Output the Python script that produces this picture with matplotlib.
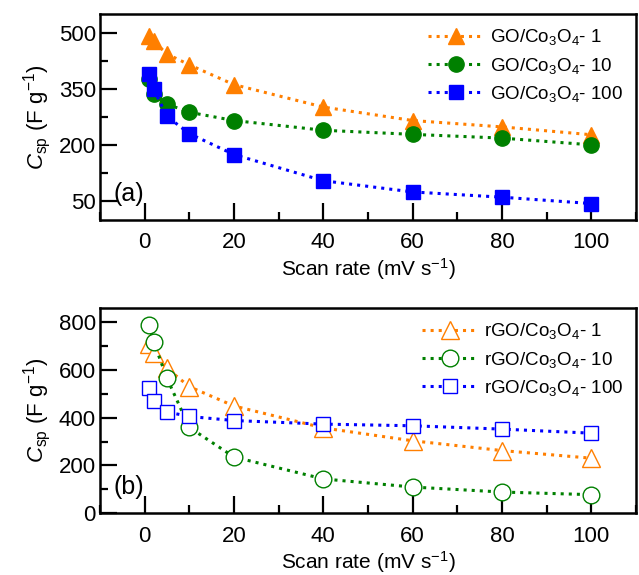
import matplotlib
matplotlib.use("Agg")
import matplotlib.pyplot as plt
from matplotlib.ticker import MultipleLocator

plt.rcParams['font.family'] = ['Liberation Sans', 'DejaVu Sans']
plt.rcParams['mathtext.fontset'] = 'custom'
plt.rcParams['mathtext.rm'] = 'Liberation Sans'
plt.rcParams['mathtext.it'] = 'Liberation Sans:italic'

scan_rate = [1, 2, 5, 10, 20, 40, 60, 80, 100]

# (a) GO/Co3O4
go_1 = [491, 478, 444, 415, 362, 302, 266, 249, 228]
go_10 = [378, 338, 310, 288, 266, 240, 229, 219, 201]
go_100 = [391, 350, 277, 231, 175, 105, 75, 61, 44]

# (b) rGO/Co3O4
rgo_1 = [708, 670, 607, 530, 449, 357, 303, 262, 230]
rgo_10 = [790, 719, 565, 359, 235, 143, 109, 88, 77]
rgo_100 = [524, 470, 424, 405, 388, 373, 366, 352, 335]

orange = '#ff7f00'
green = '#008000'
blue = '#0000ff'

fig = plt.figure(figsize=(6.39, 5.75), dpi=100)
ax1 = fig.add_axes([0.1565, 0.6174, 0.8388, 0.3583])
ax2 = fig.add_axes([0.1565, 0.1078, 0.8388, 0.3565])

ax1.plot(scan_rate, go_1, ':', color=orange, lw=2.2, marker='^', ms=12, label='GO/Co$_3$O$_4$- 1')
ax1.plot(scan_rate, go_10, ':', color=green, lw=2.2, marker='o', ms=11, label='GO/Co$_3$O$_4$- 10')
ax1.plot(scan_rate, go_100, ':', color=blue, lw=2.2, marker='s', ms=10, label='GO/Co$_3$O$_4$- 100')

ax2.plot(scan_rate, rgo_1, ':', color=orange, lw=2.2, marker='^', ms=13, mfc='white', mew=1.0, label='rGO/Co$_3$O$_4$- 1')
ax2.plot(scan_rate, rgo_10, ':', color=green, lw=2.2, marker='o', ms=12, mfc='white', mew=1.0, label='rGO/Co$_3$O$_4$- 10')
ax2.plot(scan_rate, rgo_100, ':', color=blue, lw=2.2, marker='s', ms=10, mfc='white', mew=1.0, label='rGO/Co$_3$O$_4$- 100')

ax1.set_ylim(0, 551)
ax1.set_yticks([50, 200, 350, 500])
ax1.set_yticks([125, 275, 425], minor=True)

ax2.set_ylim(0, 860)
ax2.yaxis.set_major_locator(MultipleLocator(200))
ax2.yaxis.set_minor_locator(MultipleLocator(100))

for ax, tag in [(ax1, '(a)'), (ax2, '(b)')]:
    ax.set_xlim(-10, 110)
    ax.xaxis.set_major_locator(MultipleLocator(20))
    ax.xaxis.set_minor_locator(MultipleLocator(10))
    ax.tick_params(which='both', direction='in', width=1.6, labelsize=16)
    ax.tick_params(axis='x', pad=9)
    ax.tick_params(axis='y', pad=3)
    ax.tick_params(which='major', length=12)
    ax.tick_params(which='minor', length=6)
    for s in ax.spines.values():
        s.set_linewidth(1.8)
    ax.set_xlabel('Scan rate (mV s$^{-1}$)', fontsize=15, labelpad=2)
    ax.set_ylabel('$\\mathit{C}_{\\rm sp}$ (F g$^{-1}$)', fontsize=16, labelpad=4)
    ax.text(0.025, 0.07, tag, transform=ax.transAxes, fontsize=18, va='bottom')
    ax.legend(loc='upper right', frameon=False, fontsize=13.5, handlelength=3.0,
              labelspacing=0.45, handletextpad=0.3, borderaxespad=0.3)

fig.savefig('out.png', dpi=100)
